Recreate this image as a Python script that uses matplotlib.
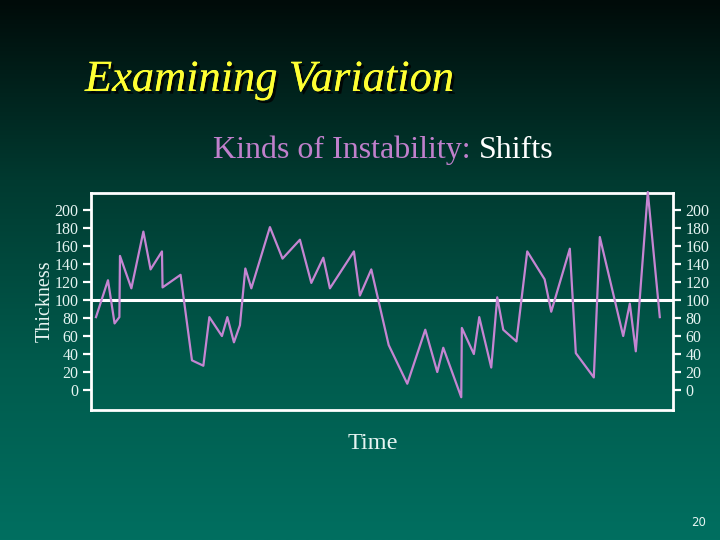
import numpy as np
import matplotlib
matplotlib.use('Agg')
import matplotlib.pyplot as plt
from matplotlib.colors import LinearSegmentedColormap
import matplotlib.patheffects as pe

# 시간축 (눈금 없는 측정 순서) 과 두께 값
time = [0.0, 2.0, 3.1, 3.9, 4.0, 5.9, 7.9, 9.1, 11.0, 11.1, 14.1, 16.0, 17.9, 18.9,
        21.0, 21.9, 23.0, 24.0, 24.9, 25.9, 29.0, 31.1, 34.0, 35.9, 37.9, 39.0,
        43.0, 44.0, 45.9, 48.8, 51.9, 54.9, 56.9, 57.9, 60.9, 61.0, 63.0, 63.9,
        65.9, 66.9, 67.9, 70.1, 71.9, 74.8, 75.9, 79.0, 80.0, 83.0, 84.0, 87.9,
        89.0, 90.0, 92.0, 94.0]
thickness = [81, 122, 74, 81, 149, 113, 176, 134, 154, 114, 128, 33, 27, 81,
             60, 81, 53, 72, 135, 113, 181, 146, 167, 119, 147, 113,
             154, 105, 134, 50, 7, 67, 20, 47, -8, 69, 40, 81,
             25, 103, 67, 54, 154, 123, 87, 157, 41, 14, 170, 60,
             96, 43, 220, 81]
yticks = [0, 20, 40, 60, 80, 100, 120, 140, 160, 180, 200]
center = 100

fig = plt.figure(figsize=(7.2, 5.4), dpi=100)

# 배경 그라데이션
bg = fig.add_axes([0, 0, 1, 1], zorder=-10)
cmap = LinearSegmentedColormap.from_list('bg', ['#000b09', '#003a30', '#005a4c', '#006f60'])
grad = np.linspace(0, 1, 256).reshape(-1, 1)
bg.imshow(grad, aspect='auto', cmap=cmap, extent=[0, 1, 0, 1], origin='upper')
bg.axis('off')

serif = ['Liberation Serif', 'DejaVu Serif']
txtcol = '#e6f4f2'

ax = fig.add_axes([0.1264, 0.2407, 0.8083, 0.4019])
ax.set_facecolor('none')
ax.plot(time, thickness, color='#c585d2', lw=1.6, zorder=3, clip_on=False)
ax.axhline(center, color='white', lw=2.2, zorder=2)
ax.set_xlim(-0.83, 96.2)
ax.set_ylim(-22.2, 218.9)

for s in ax.spines.values():
    s.set_color('white')
    s.set_linewidth(2)

ax.set_xticks([])
ax.set_yticks(yticks)
ax.tick_params(axis='y', which='both', left=True, right=True, labelleft=True, labelright=True,
               direction='out', length=6, width=1.6, color='white', labelcolor=txtcol,
               labelsize=11.5, pad=3)
for lab in ax.get_yticklabels():
    lab.set_family(serif)

ax.set_ylabel('Thickness', family=serif, fontsize=14.5, color=txtcol, va='center')
ax.yaxis.set_label_coords(-0.079, 0.5)
ax.set_xlabel('Time', family=serif, fontsize=17.5, color=txtcol, va='center')
ax.xaxis.set_label_coords(0.4845, -0.152)

# 제목
fig.text(0.118, 0.852, 'Examining Variation', family=serif, style='italic', fontsize=32,
         color='#ffff33', ha='left', va='center',
         path_effects=[pe.withSimplePatchShadow(offset=(2, -2), shadow_rgbFace='#000000', alpha=0.8),
                       pe.Normal()])

# 부제목 (두 가지 색)
t1 = fig.text(0.296, 0.722, 'Kinds of Instability: ', family=serif, fontsize=23,
              color='#c080cc', ha='left', va='center')
fig.canvas.draw()
bb = t1.get_window_extent()
fig.text(bb.x1 / fig.bbox.width, 0.722, 'Shifts', family=serif, fontsize=23,
         color='white', ha='left', va='center')

fig.text(0.97, 0.032, '20', fontsize=8.5, color=txtcol, ha='center', va='center')

plt.savefig('out.png', dpi=100)
